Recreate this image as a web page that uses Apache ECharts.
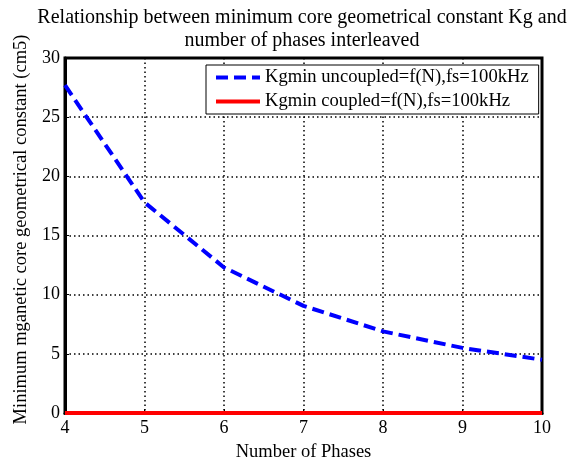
<!DOCTYPE html>
<html><head><meta charset="utf-8">
<script src="https://cdn.jsdelivr.net/npm/echarts@6/dist/echarts.min.js"></script>
<style>html,body{margin:0;padding:0;background:#fff}#c{width:580px;height:463px}</style>
</head><body><div id="c"></div>
<script>
var phases = [4, 5, 6, 7, 8, 9, 10];
var kgUncoupled = [27.7, 17.8, 12.3, 9.05, 6.9, 5.5, 4.5];
var kgCoupled = [0, 0, 0, 0, 0, 0, 0];
var xTicks = [4, 5, 6, 7, 8, 9, 10];
var yTicks = [0, 5, 10, 15, 20, 25, 30];

var F = 'Liberation Serif, Times New Roman, serif';
var chart = echarts.init(document.getElementById('c'));
chart.setOption({
  animation: false,
  title: {
    text: 'Relationship between minimum core geometrical constant Kg and\nnumber of phases interleaved',
    left: 297, textAlign: 'center', top: 1,
    textStyle: {fontFamily: F, fontSize: 20, fontWeight: 'normal', color: '#000', lineHeight: 23}
  },
  grid: {left: 65, right: 38, top: 58, bottom: 50, outerBoundsMode: 'none', containLabel: false,
         show: true, borderColor: '#000', borderWidth: 3, backgroundColor: '#fff'},
  legend: {
    orient: 'vertical', left: 206, top: 65,
    padding: [3, 10, 3, 8], itemGap: 5,
    backgroundColor: '#fff', borderColor: '#000', borderWidth: 1,
    itemWidth: 44, itemHeight: 18,
    itemStyle: {opacity: 0},
    lineStyle: {width: 4},
    textStyle: {fontFamily: F, fontSize: 18.6, color: '#000'},
    data: ['Kgmin uncoupled=f(N),fs=100kHz', 'Kgmin coupled=f(N),fs=100kHz']
  },
  xAxis: {
    type: 'value', min: xTicks[0], max: xTicks[xTicks.length-1], interval: 1,
    name: 'Number of Phases', nameLocation: 'middle', nameGap: 30,
    nameTextStyle: {fontFamily: F, fontSize: 18.5, color: '#000'},
    axisLine: {show: true, lineStyle: {color: '#000', width: 3}},
    axisTick: {show: true, inside: true, length: 4, lineStyle: {color: '#000'}},
    axisLabel: {fontFamily: F, fontSize: 18, color: '#000', margin: 6},
    splitLine: {show: true, lineStyle: {color: '#000', type: [1.5, 3], width: 1.5}}
  },
  yAxis: {
    type: 'value', min: yTicks[0], max: yTicks[yTicks.length-1], interval: 5,
    name: 'Minimum mganetic core geometrical constant (cm5)', nameLocation: 'middle', nameGap: 31,
    nameTextStyle: {fontFamily: F, fontSize: 18.5, color: '#000', padding: [0, 0, 0, 12]},
    axisLine: {show: true, lineStyle: {color: '#000', width: 3}},
    axisTick: {show: true, inside: true, length: 4, lineStyle: {color: '#000'}},
    axisLabel: {fontFamily: F, fontSize: 18, color: '#000', margin: 5},
    splitLine: {show: true, lineStyle: {color: '#000', type: [1.5, 3], width: 1.5}}
  },
  series: [
    {name: 'Kgmin uncoupled=f(N),fs=100kHz', type: 'line', symbol: 'none',
     data: phases.map(function(p,i){return [p, kgUncoupled[i]];}),
     lineStyle: {color: '#0000ff', width: 4, type: [12, 6]}, itemStyle: {color: '#0000ff'}},
    {name: 'Kgmin coupled=f(N),fs=100kHz', type: 'line', symbol: 'none', clip: false,
     data: phases.map(function(p,i){return [p, kgCoupled[i]];}),
     lineStyle: {color: '#ff0000', width: 4}, itemStyle: {color: '#ff0000'}}
  ]
});
</script></body></html>
